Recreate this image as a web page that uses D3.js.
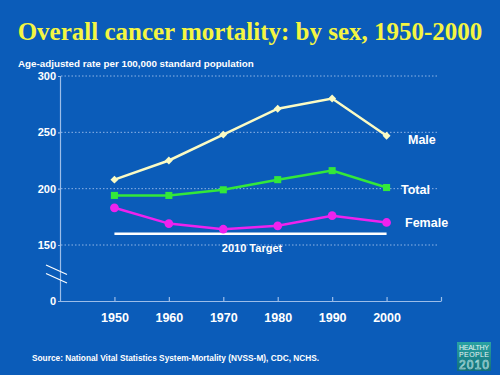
<!DOCTYPE html>
<html>
<head>
<meta charset="utf-8">
<script src="https://cdn.jsdelivr.net/npm/d3@7"></script>
<style>
  body { margin: 0; background: #0b5cb9; }
  svg { display: block; }
</style>
</head>
<body>
<div id="chart"></div>
<script>
var years = [1950, 1960, 1970, 1980, 1990, 2000];
var male = [208, 225, 248, 271, 280, 247];
var total = [194, 194, 199, 208, 216, 201];
var female = [183, 169, 164, 167, 176, 170];
var target = 160;
var yTicks = [0, 150, 200, 250, 300];
var xTicks = [1950, 1960, 1970, 1980, 1990, 2000, 2010];
var xLabels = [1950, 1960, 1970, 1980, 1990, 2000];

var width = 500, height = 375;

var svg = d3.select("#chart").append("svg")
  .attr("width", width)
  .attr("height", height);

svg.append("rect")
  .attr("width", width)
  .attr("height", height)
  .attr("fill", "#0b5cb9");

// title and axis caption
svg.append("text")
  .attr("x", 250).attr("y", 40)
  .attr("text-anchor", "middle")
  .attr("font-family", "Liberation Serif, Times New Roman, serif")
  .attr("font-weight", "bold")
  .attr("font-size", 25)
  .attr("fill", "#f4f542")
  .text("Overall cancer mortality: by sex, 1950-2000");

svg.append("text")
  .attr("x", 18).attr("y", 67)
  .attr("font-family", "Liberation Sans, Arial, sans-serif")
  .attr("font-weight", "bold")
  .attr("font-size", 9.8)
  .attr("fill", "#ffffff")
  .text("Age-adjusted rate per 100,000 standard population");

// scales (broken y axis between 0 and 150)
var x = d3.scaleLinear().domain([1940, 2010]).range([60, 441]);
var y = d3.scaleLinear().domain([0, 150, 300]).range([301, 245, 76]);

// gridlines
svg.append("g").selectAll("line")
  .data(yTicks.filter(function(d) { return d > 0; }))
  .enter().append("line")
  .attr("x1", 61).attr("x2", 439)
  .attr("y1", function(d) { return y(d); })
  .attr("y2", function(d) { return y(d); })
  .attr("stroke", "#8fb4e6")
  .attr("stroke-width", 1)
  .attr("stroke-dasharray", "1.5,2");

// y axis
var yAxis = svg.append("g")
  .attr("transform", "translate(60,0)")
  .call(d3.axisLeft(y).tickValues(yTicks).tickSize(2).tickPadding(2));

// x axis, ticks point upward
var xAxis = svg.append("g")
  .attr("transform", "translate(0," + y(0) + ")")
  .call(d3.axisBottom(x).tickValues(xTicks).tickSizeInner(-4).tickSizeOuter(0)
    .tickFormat(function(d) { return xLabels.indexOf(d) >= 0 ? d : ""; }));

[yAxis, xAxis].forEach(function(ax) {
  ax.selectAll("path, line").attr("stroke", "#9cbde9").attr("stroke-width", 1.2);
  ax.selectAll("text")
    .attr("fill", "#ffffff")
    .attr("font-family", "Liberation Sans, Arial, sans-serif")
    .attr("font-weight", "bold");
});
yAxis.selectAll("text").attr("font-size", 11);
xAxis.selectAll("text").attr("font-size", 12.5).attr("dy", "1.45em");

// axis break marks
[0, 8.5].forEach(function(off) {
  svg.append("line")
    .attr("x1", 46).attr("y1", 265 + off)
    .attr("x2", 67).attr("y2", 274.5 + off)
    .attr("stroke", "#ffffff")
    .attr("stroke-width", 1.2);
});

// 2010 target
svg.append("line")
  .attr("x1", x(1950)).attr("x2", x(2000))
  .attr("y1", y(target)).attr("y2", y(target))
  .attr("stroke", "#ffffff")
  .attr("stroke-width", 2.5);
svg.append("text")
  .attr("x", 252).attr("y", 251.5)
  .attr("text-anchor", "middle")
  .attr("font-family", "Liberation Sans, Arial, sans-serif")
  .attr("font-weight", "bold")
  .attr("font-size", 11)
  .attr("fill", "#ffffff")
  .text("2010 Target");

var series = [
  {name: "Male", values: male, color: "#fbfbc4", shape: d3.symbolDiamond2, size: 40, lx: 408, ly: 143.5},
  {name: "Total", values: total, color: "#33e83a", shape: d3.symbolSquare, size: 50, lx: 401, ly: 193.5},
  {name: "Female", values: female, color: "#ee22ee", shape: d3.symbolCircle, size: 60, lx: 405, ly: 227}
];

var line = d3.line()
  .x(function(d, i) { return x(years[i]); })
  .y(function(d) { return y(d); });

series.forEach(function(s) {
  svg.append("path")
    .attr("d", line(s.values))
    .attr("fill", "none")
    .attr("stroke", s.color)
    .attr("stroke-width", 2.5);

  svg.append("g").selectAll("path")
    .data(s.values)
    .enter().append("path")
    .attr("transform", function(d, i) { return "translate(" + x(years[i]) + "," + y(d) + ")"; })
    .attr("d", d3.symbol().type(s.shape).size(s.size))
    .attr("fill", s.color);

  svg.append("text")
    .attr("x", s.lx).attr("y", s.ly)
    .attr("font-family", "Liberation Sans, Arial, sans-serif")
    .attr("font-weight", "bold")
    .attr("font-size", 12.5)
    .attr("fill", "#ffffff")
    .text(s.name);
});

// source note
svg.append("text")
  .attr("x", 32).attr("y", 361)
  .attr("font-family", "Liberation Sans, Arial, sans-serif")
  .attr("font-weight", "bold")
  .attr("font-size", 8.3)
  .attr("fill", "#ffffff")
  .text("Source: National Vital Statistics System-Mortality (NVSS-M), CDC, NCHS.");

// logo
var grad = svg.append("defs").append("linearGradient")
  .attr("id", "logo").attr("x1", 0).attr("y1", 0).attr("x2", 0).attr("y2", 1);
grad.append("stop").attr("offset", "0%").attr("stop-color", "#2aa3a3");
grad.append("stop").attr("offset", "100%").attr("stop-color", "#116f78");
svg.append("rect")
  .attr("x", 457).attr("y", 342)
  .attr("width", 34).attr("height", 29)
  .attr("fill", "url(#logo)");
var logo = svg.append("g")
  .attr("font-family", "Liberation Sans, Arial, sans-serif")
  .attr("fill", "#e6f4f4")
  .attr("text-anchor", "middle");
logo.append("text").attr("x", 474).attr("y", 350).attr("font-size", 7).attr("textLength", 30).text("HEALTHY");
logo.append("text").attr("x", 474).attr("y", 357).attr("font-size", 7).attr("textLength", 30).text("PEOPLE");
logo.append("text").attr("x", 474).attr("y", 369).attr("font-size", 12).attr("fill", "none")
  .attr("stroke", "#bfe3e3").attr("stroke-width", 0.6).attr("textLength", 30).text("2010");
</script>
</body>
</html>
